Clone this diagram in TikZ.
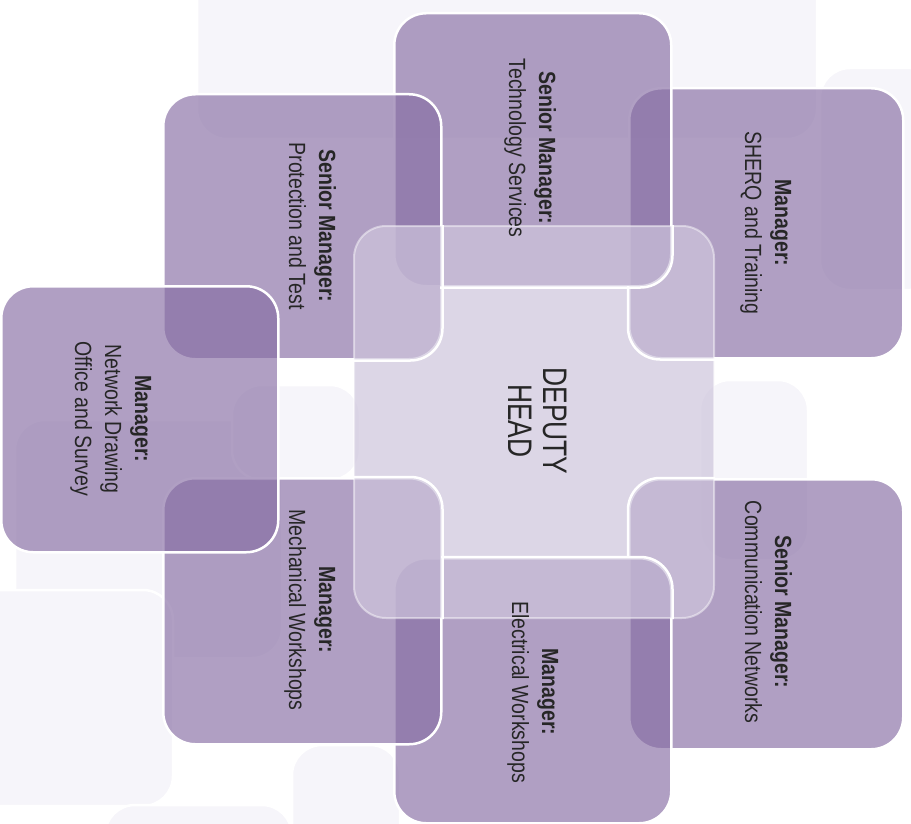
\documentclass[tikz,border=0pt]{standalone}
\usepackage{fontspec}
\setmainfont{Liberation Sans}
\definecolor{boxpurple}{HTML}{866DA3}
\definecolor{centerfill}{HTML}{CEC5DC}
\definecolor{bgfaint}{HTML}{F6F5FA}
\definecolor{txt}{HTML}{262626}
\tikzset{
  faintbg/.style={fill=bgfaint, draw=white, line width=2.5pt, rounded corners=30pt},
  mgrbox/.style={fill=boxpurple, fill opacity=0.65, draw=white, line width=2.5pt, rounded corners=32pt},
  brightedge/.style={draw=white, line width=2.5pt, rounded corners=32pt},
  centerbox/.style={fill=centerfill, fill opacity=0.7, draw=white, draw opacity=0.45, line width=2pt, rounded corners=32pt},
  lbl/.style={rotate=-90, text=txt, inner sep=0pt, text opacity=1},
}
\newcommand{\smalllbl}[2]{\scalebox{1}[1.2]{\fontsize{19.5}{25}\selectfont\begin{tabular}{@{}c@{}}\textbf{#1}\\#2\end{tabular}}}
\begin{document}
\begin{tikzpicture}[x=1pt, y=-1pt]
\useasboundingbox (0,0) rectangle (911,824);
\fill[white] (0,0) rectangle (911,824);
% faint background shapes
\begin{scope}
\clip (0,0) rectangle (911,824);
\draw[faintbg] (197,-40) rectangle (817,139);
\draw[faintbg] (820,68) rectangle (940,290);
\draw[faintbg] (15,420) rectangle (282,658);
\draw[faintbg] (-40,590) rectangle (173,806);
\draw[faintbg] (105,805) rectangle (292,860);
\draw[faintbg] (292,745) rectangle (400,860);
\draw[faintbg] (232,385) rectangle (360,480);
\draw[faintbg] (700,380) rectangle (808,560);
\end{scope}
% manager boxes (stacking order)
\node[mgrbox, anchor=north west, minimum width=274pt, minimum height=270pt] (sherq) at (628,87) {};
\node[mgrbox, anchor=north west, minimum width=277pt, minimum height=273pt] (tech) at (393,12) {};
\node[mgrbox, anchor=north west, minimum width=274pt, minimum height=270pt] (comm) at (628,478) {};
\node[mgrbox, anchor=north west, minimum width=277pt, minimum height=265pt] (elec) at (393,557) {};
\node[mgrbox, anchor=north west, minimum width=278pt, minimum height=265pt] (prot) at (162,93) {};
\node[mgrbox, anchor=north west, minimum width=278pt, minimum height=266pt] (mech) at (162,477) {};
\node[mgrbox, anchor=north west, minimum width=277pt, minimum height=266pt] (netw) at (0,285) {};
% centre box
\node[centerbox, anchor=north west, minimum width=360pt, minimum height=392pt] (head) at (353,225) {};
% bright edges of boxes lying over the centre box
\begin{scope}
\clip[rounded corners=32pt] (head.north west) rectangle (head.south east);
\begin{scope}
\clip (440,200) rectangle (720,300);
\draw[brightedge] (tech.north west) rectangle (tech.south east);
\end{scope}
\draw[brightedge] (prot.north west) rectangle (prot.south east);
\begin{scope}
\clip (600,286) rectangle (720,400);
\draw[brightedge] (sherq.north west) rectangle (sherq.south east);
\end{scope}
\draw[brightedge] (mech.north west) rectangle (mech.south east);
\begin{scope}
\clip (441,540) rectangle (720,620);
\draw[brightedge] (elec.north west) rectangle (elec.south east);
\end{scope}
\begin{scope}
\clip (600,450) rectangle (720,556);
\draw[brightedge] (comm.north west) rectangle (comm.south east);
\end{scope}
\end{scope}
% labels
\node[lbl] (techlbl) at (530,148) {\smalllbl{Senior Manager:}{Technology Services}};
\node[lbl] (protlbl) at (310,226) {\smalllbl{Senior Manager:}{Protection and Test}};
\node[lbl] (sherqlbl) at (766,223) {\smalllbl{Manager:}{SHERQ and Training}};
\node[lbl] (netwlbl) at (111,419) {\scalebox{1}[1.2]{\fontsize{19.5}{25}\selectfont\begin{tabular}{@{}c@{}}\textbf{Manager:}\\Network Drawing\\Office and Survey\end{tabular}}};
\node[lbl] (mechlbl) at (310,610) {\smalllbl{Manager:}{Mechanical Workshops}};
\node[lbl] (eleclbl) at (533,692) {\smalllbl{Manager:}{Electrical Workshops}};
\node[lbl] (commlbl) at (766,612) {\smalllbl{Senior Manager:}{Communication Networks}};
\node[lbl] (headlbl) at (533,421) {\scalebox{1}[1.29]{\fontsize{26.4}{27.5}\selectfont\begin{tabular}{@{}c@{}}DEPUTY\\HEAD\end{tabular}}};
\end{tikzpicture}
\end{document}
